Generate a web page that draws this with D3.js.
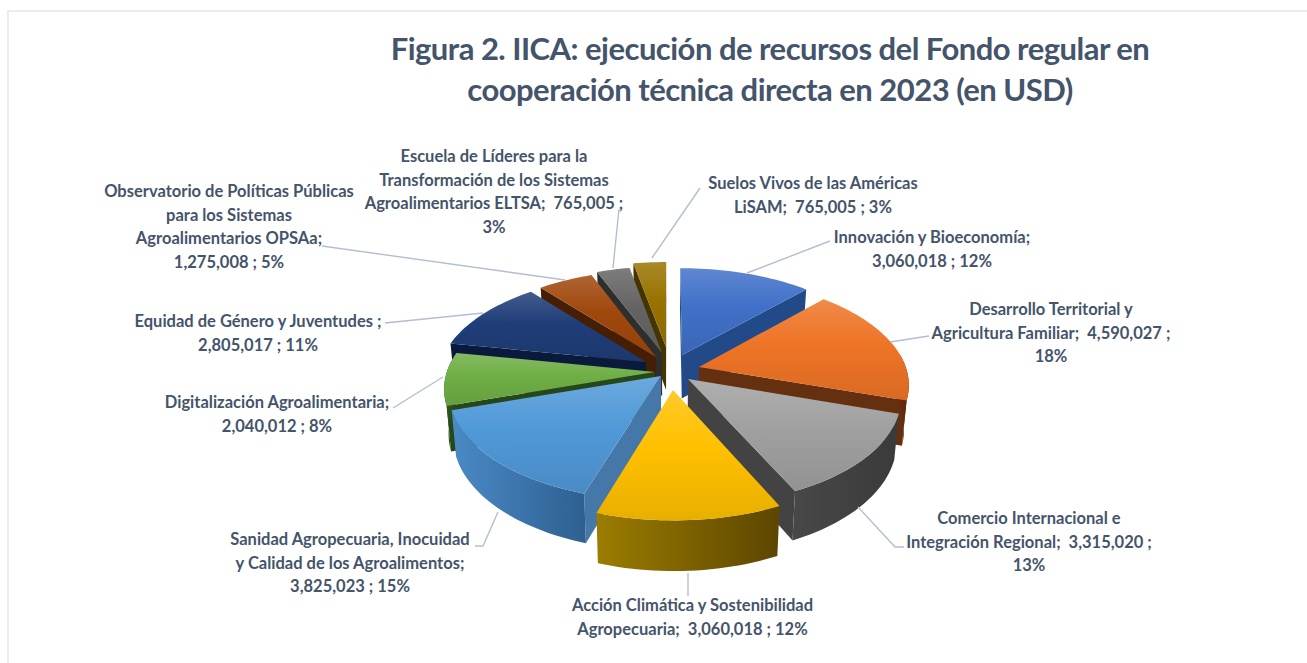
<!DOCTYPE html>
<html lang="es"><head><meta charset="utf-8">
<script src="https://cdn.jsdelivr.net/npm/d3@7/dist/d3.min.js"></script>
<style>html,body{margin:0;padding:0;background:#fff;overflow:hidden}svg{display:block}</style>
</head><body><svg id="c" width="1307" height="663"></svg>
<script>
const categories = ["Innovación y Bioeconomía","Desarrollo Territorial y Agricultura Familiar","Comercio Internacional e Integración Regional","Acción Climática y Sostenibilidad Agropecuaria","Sanidad Agropecuaria, Inocuidad y Calidad de los Agroalimentos","Digitalización Agroalimentaria","Equidad de Género y Juventudes","Observatorio de Políticas Públicas para los Sistemas Agroalimentarios OPSAa","Escuela de Líderes para la Transformación de los Sistemas Agroalimentarios ELTSA","Suelos Vivos de las Américas LiSAM"];
const values = [3060018,4590027,3315020,3060018,3825023,2040012,2805017,1275008,765005,765005];
const titleLines = ["Figura 2. IICA: ejecución de recursos del Fondo regular en","cooperación técnica directa en 2023 (en USD)"];
const labelLines = [
 ["Innovación y Bioeconomía;","3,060,018 ; 12%"],
 ["Desarrollo Territorial y","Agricultura Familiar;  4,590,027 ;","18%"],
 ["Comercio Internacional e","Integración Regional;  3,315,020 ;","13%"],
 ["Acción Climática y Sostenibilidad","Agropecuaria;  3,060,018 ; 12%"],
 ["Sanidad Agropecuaria, Inocuidad","y Calidad de los Agroalimentos;","3,825,023 ; 15%"],
 ["Digitalización Agroalimentaria;","2,040,012 ; 8%"],
 ["Equidad de Género y Juventudes ;","2,805,017 ; 11%"],
 ["Observatorio de Políticas Públicas","para los Sistemas","Agroalimentarios OPSAa;","1,275,008 ; 5%"],
 ["Escuela de Líderes para la","Transformación de los Sistemas","Agroalimentarios ELTSA;  765,005 ;","3%"],
 ["Suelos Vivos de las Américas","LiSAM;  765,005 ; 3%"]
];
const topColors = ["#4070c8","#ee7426","#a0a0a0","#ffc000","#5099d8","#6fae45","#1f3d78","#a0480c","#646464","#997300"];
const wallColors = [["#2a5292","#1c3a6e"],["#6a3010","#5a2a0a"],["#484848","#3a3a3a"],["#9c7c00","#5c4600"],["#4a8ac6","#2e5f90"],["#2f5a1c","#25481a"],["#0c2048","#0a1a3c"],["#55240a","#401c04"],["#383838","#2e2e2e"],["#5a4400","#463400"]];
const faceColors = ["#234a88","#64300f","#434343","#5c4600","#4577a8","#25481a","#0a1a3c","#451e06","#2e2e2e","#463400"];
const apexPos = [[682,355],[699,367],[688,379],[673,390],[661,376],[655,372],[646,362],[656,357],[662,353],[666,347]];
const labelPos = [[932,238],[1051,310],[1029,519],[692.5,606],[350,540],[277,403],[258,322],[229,192],[494,157],[813,184]];
const lineH = 23.6;
const leaders = [
 [[747,273],[830,241]],
 [[890,342],[929,336]],
 [[858,507],[895,547],[904,547]],
 [[688,573],[688,596]],
 [[498,512],[483,546],[475,546]],
 [[443,377],[393,408]],
 [[483,313],[385,323]],
 [[565,280],[322,246]],
 [[613,268],[619,209]],
 [[652,258],[700,188]]
];

const svg = d3.select("#c");
const R = 207, k = 0.15, q = 0.5, cx = 668, cy = 368, depth = 44, bottomScale = 0.98;
function project(X, Y, low) {
  const s = 1 / (1 - k * Y / R);
  let x = s * X, y = s * q * Y;
  if (low) { x *= bottomScale; y = y * bottomScale + depth * s; }
  return [cx + x, cy + y];
}
function unproject(p) {
  const xp = p[0] - cx, yp = p[1] - cy;
  const Y = yp / (q + k * yp / R);
  return [xp * (1 - k * Y / R), Y];
}
const pie = d3.pie().sort(null).startAngle(0).endAngle(2 * Math.PI).value(d => d);
const arcs = pie(values);
const line = d3.line();
const defs = svg.append("defs");

// frame
svg.append("path").attr("d", line([[8,663],[8,11],[1307,11]])).attr("fill","none").attr("stroke","#e2e5ec").attr("stroke-width",1.5);

function vGrad(id, c) {
  const g = defs.append("linearGradient").attr("id", id).attr("x1",0).attr("y1",0).attr("x2",0).attr("y2",1);
  const col = d3.color(c);
  g.append("stop").attr("offset","0%").attr("stop-color", d3.interpolateRgb(col,"#fff")(0.16));
  g.append("stop").attr("offset","45%").attr("stop-color", c);
  g.append("stop").attr("offset","100%").attr("stop-color", d3.interpolateRgb(col,"#000")(0.09));
}
function hGrad(id, a, b) {
  const g = defs.append("linearGradient").attr("id", id).attr("x1",0).attr("y1",0).attr("x2",1).attr("y2",0);
  g.append("stop").attr("offset","0%").attr("stop-color", a);
  g.append("stop").attr("offset","100%").attr("stop-color", b);
}

const slices = arcs.map((a, i) => {
  const off = unproject(apexPos[i]);
  return { i, a, ex: off[0], ey: off[1], depthKey: -Math.cos((a.startAngle + a.endAngle) / 2) };
});
slices.forEach(s => { vGrad("top"+s.i, topColors[s.i]); hGrad("wall"+s.i, wallColors[s.i][0], wallColors[s.i][1]); });
const order = slices.slice().sort((p, r) => p.depthKey - r.depthKey);

function rim(s, t0, t1, low) {
  const n = Math.max(2, Math.ceil((t1 - t0) / 0.03));
  return d3.range(n + 1).map(j => {
    const t = t0 + (t1 - t0) * j / n;
    return project(s.ex + R * Math.sin(t), s.ey - R * Math.cos(t), low);
  });
}

const pieG = svg.append("g");
order.forEach(s => {
  const g = pieG.append("g");
  const apexT = project(s.ex, s.ey, false), apexB = project(s.ex, s.ey, true);
  [{ t: s.a.startAngle, sign: 1 }, { t: s.a.endAngle, sign: -1 }].forEach(f => {
    const oT = rim(s, f.t, f.t + 0.001, false)[0], oB = rim(s, f.t, f.t + 0.001, true)[0];
    const quad = [apexT, oT, oB, apexB];
    if (d3.polygonArea(quad) * f.sign > 0) {
      g.append("path").attr("d", line(quad) + "Z").attr("fill", faceColors[s.i]);
    }
  });
  // outer wall: only the part of the rim that faces the viewer
  const t0 = Math.max(s.a.startAngle, Math.PI / 2 - 0.12), t1 = Math.min(s.a.endAngle, 3 * Math.PI / 2 + 0.12);
  if (t1 > t0) {
    const up = rim(s, t0, t1, false), dn = rim(s, t0, t1, true).reverse();
    g.append("path").attr("d", line(up.concat(dn)) + "Z").attr("fill", "url(#wall"+s.i+")");
  }
  const topPts = [apexT].concat(rim(s, s.a.startAngle, s.a.endAngle, false));
  g.append("path").attr("d", line(topPts) + "Z").attr("fill", "url(#top"+s.i+")");
});

// leaders
svg.append("g").selectAll("path").data(leaders).join("path")
  .attr("d", d => line(d)).attr("fill","none").attr("stroke","#b3bfcf").attr("stroke-width",1.4);

// labels
const font = "Lato, 'Open Sans', sans-serif";
const lab = svg.append("g").attr("font-family", font).attr("font-weight",700).attr("font-size",16.5)
  .attr("fill","#44546a").attr("text-anchor","middle");
labelLines.forEach((ls, i) => {
  ls.forEach((t, j) => {
    lab.append("text").style("white-space","pre")
      .attr("x", labelPos[i][0]).attr("y", labelPos[i][1] + j * lineH + 5).text(t);
  });
});
// title
const ttl = svg.append("g").attr("font-family", font).attr("font-weight",700).attr("font-size",31)
  .attr("letter-spacing",-0.52).attr("fill","#44546a").attr("text-anchor","middle");
titleLines.forEach((t, j) => ttl.append("text").attr("x", 770).attr("y", 60 + j * 41).text(t));
</script></body></html>
